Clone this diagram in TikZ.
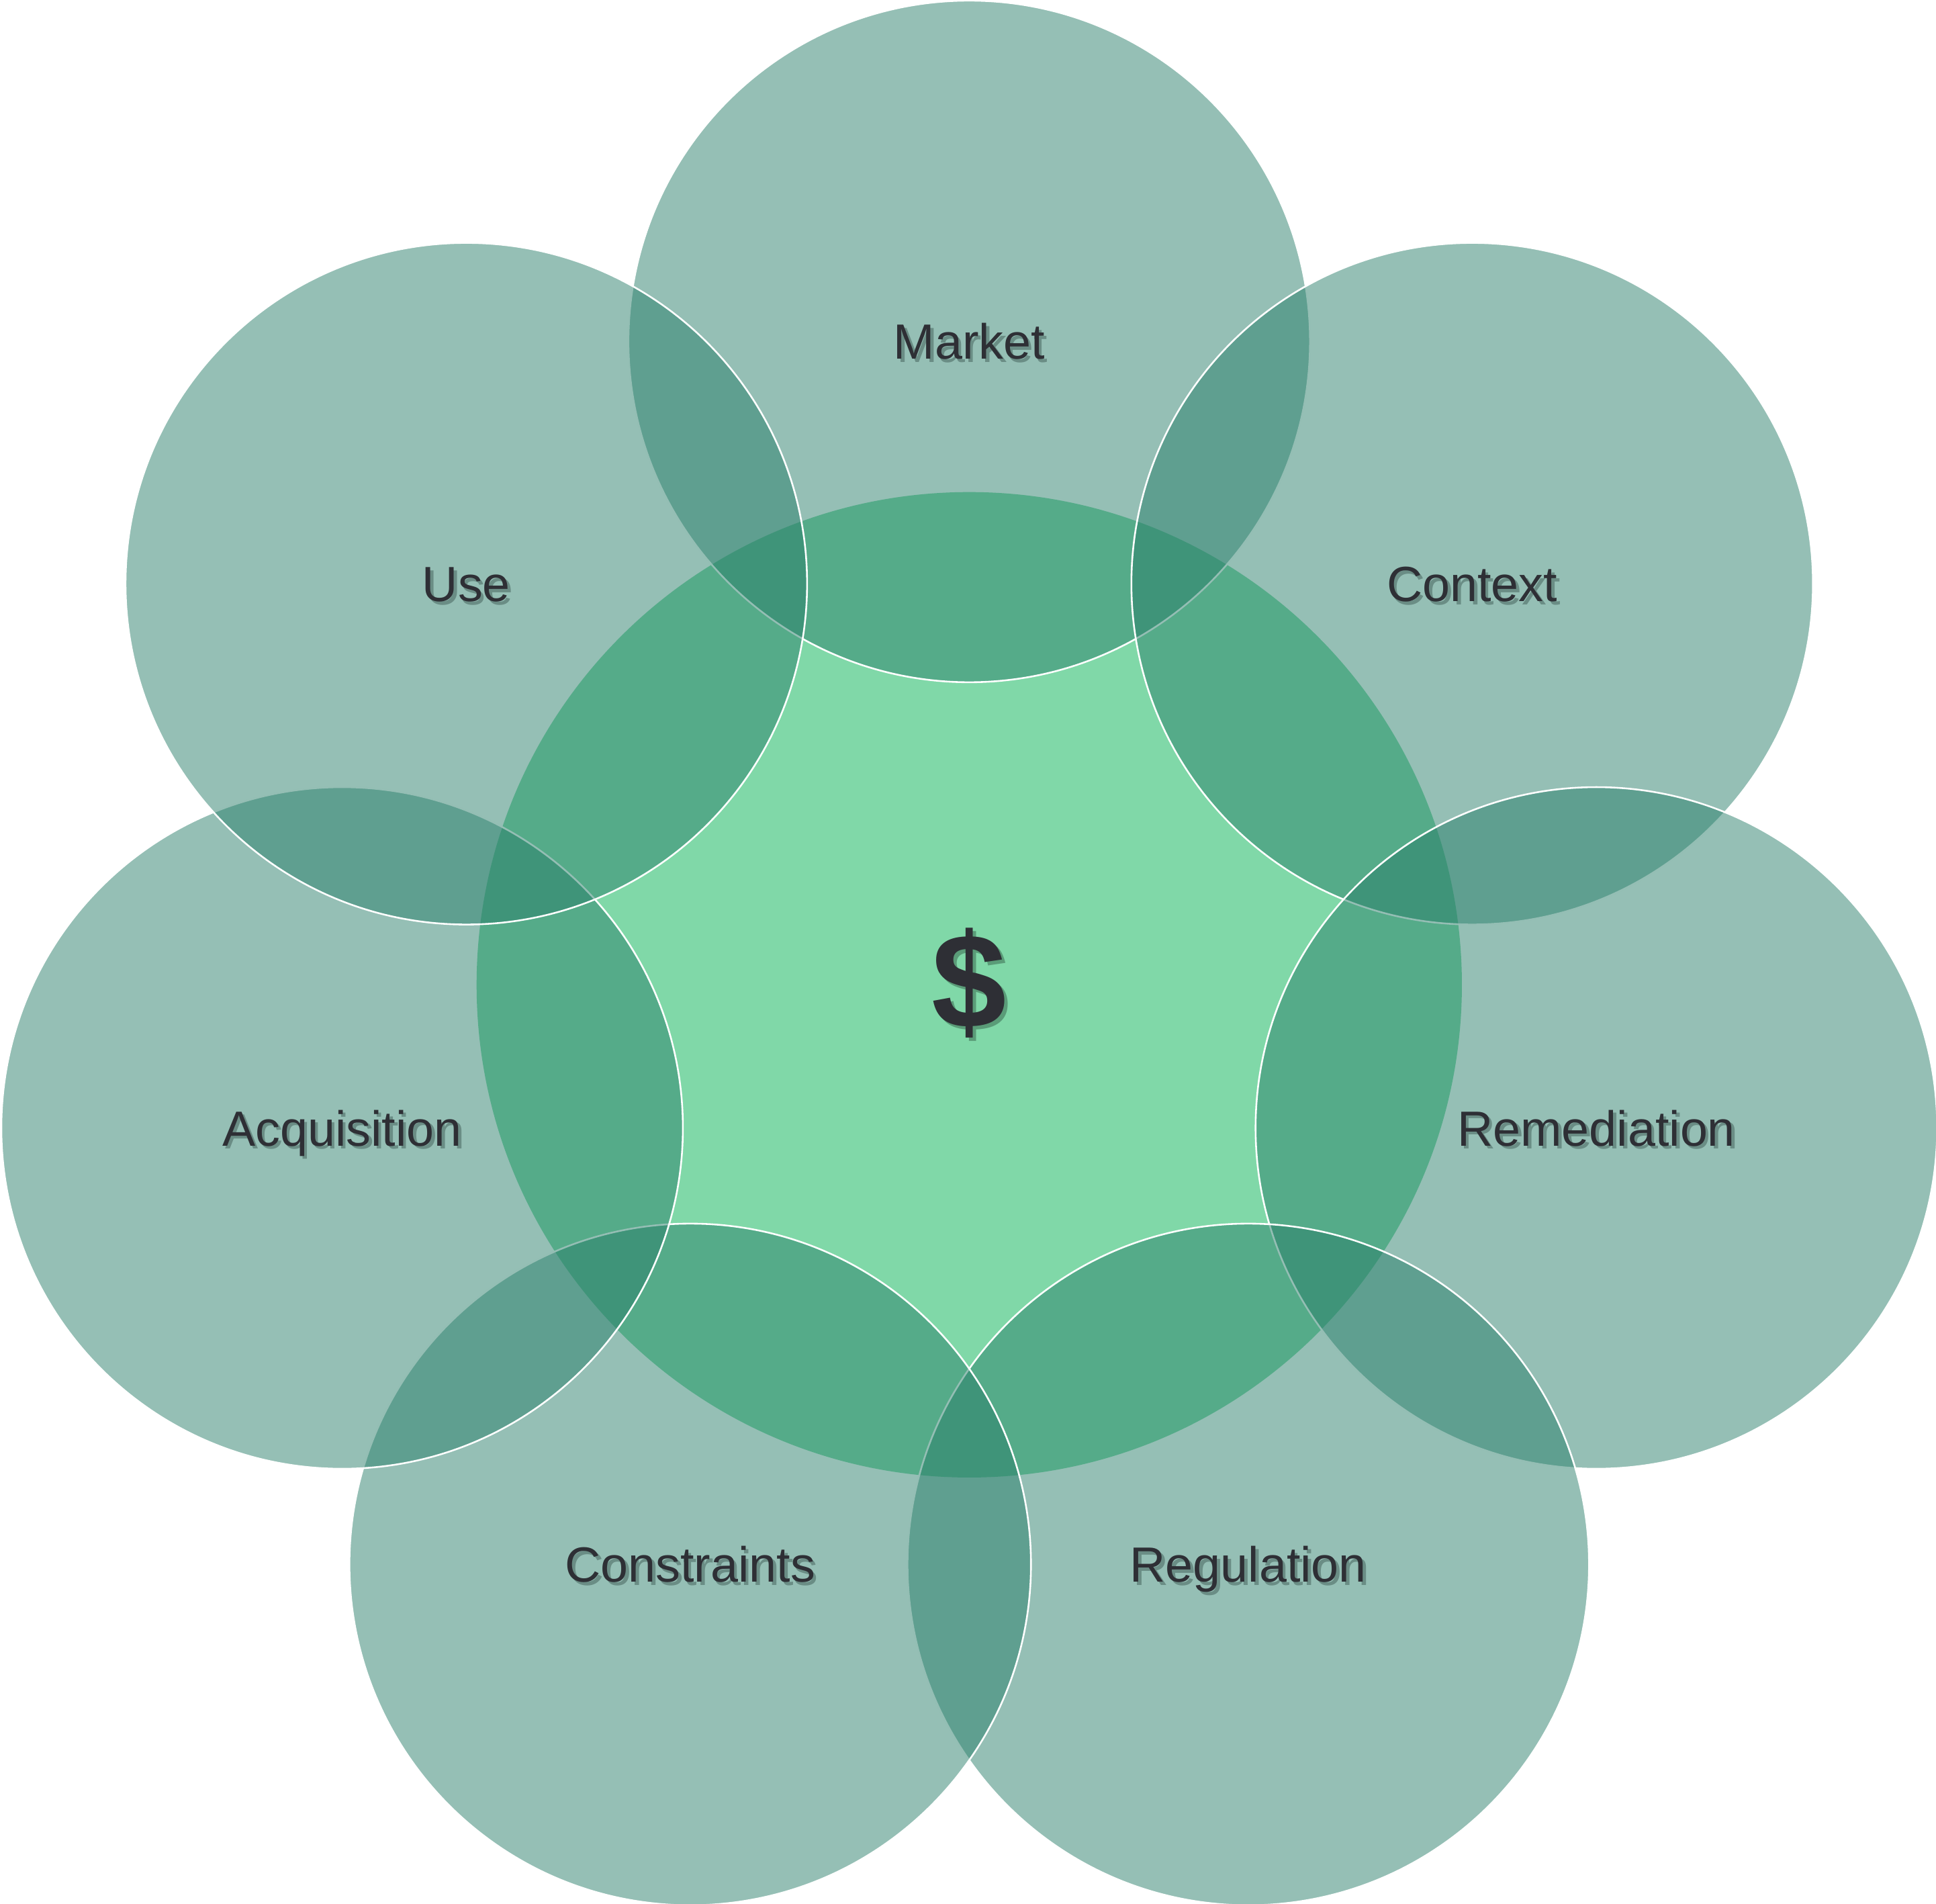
\documentclass[tikz,border=0pt]{standalone}
\usepackage{fontspec}
\setmainfont{Liberation Sans}

\definecolor{hubgreen}{HTML}{80D8A8}
\definecolor{petalteal}{HTML}{2B7F6B}
\definecolor{labelgray}{HTML}{2E2F35}
\definecolor{petalshade}{HTML}{6A8D85}
\definecolor{hubshade}{HTML}{5A9C78}

\newcommand{\shadowed}[2]{\makebox[0pt][l]{\kern0.7pt\raisebox{-0.7pt}{\textcolor{#1}{#2}}}#2}

\begin{document}
\begin{tikzpicture}[every node/.style={font=\fontsize{11.4}{13}\selectfont, text=labelgray},
    petal/.style={fill=petalteal, fill opacity=0.5, draw=white, draw opacity=1, line width=0.4pt},
    tag/.style={text height=8.2pt, text depth=0pt}]
    % Frame
    \useasboundingbox (-7.85,-7.44) rectangle (7.83,7.975);

    % Hub
    \fill[hubgreen] (0,0) circle (3.99);

    % Petals
    \draw[petal] (90:5.21) circle (2.76);
    \draw[petal] (38.57:5.21) circle (2.76);
    \draw[petal] (-12.86:5.21) circle (2.76);
    \draw[petal] (-64.29:5.21) circle (2.76);
    \draw[petal] (-115.71:5.21) circle (2.76);
    \draw[petal] (-167.14:5.21) circle (2.76);
    \draw[petal] (141.43:5.21) circle (2.76);

    % Labels
    \node[tag] (market) at (90:5.21) {\shadowed{petalshade}{Market}};
    \node[tag] (context) at (38.57:5.21) {\shadowed{petalshade}{Context}};
    \node[tag] (remediation) at (-12.86:5.21) {\shadowed{petalshade}{Remediation}};
    \node[tag] (regulation) at (-64.29:5.21) {\shadowed{petalshade}{Regulation}};
    \node[tag] (constraints) at (-115.71:5.21) {\shadowed{petalshade}{Constraints}};
    \node[tag] (acquisition) at (-167.14:5.21) {\shadowed{petalshade}{Acquisition}};
    \node[tag] (use) at (141.43:5.21) {\shadowed{petalshade}{Use}};

    % Money sign
    \node[font=\fontsize{31}{32}\selectfont\bfseries] (money) at (0,0) {\shadowed{hubshade}{\$}};
\end{tikzpicture}
\end{document}
